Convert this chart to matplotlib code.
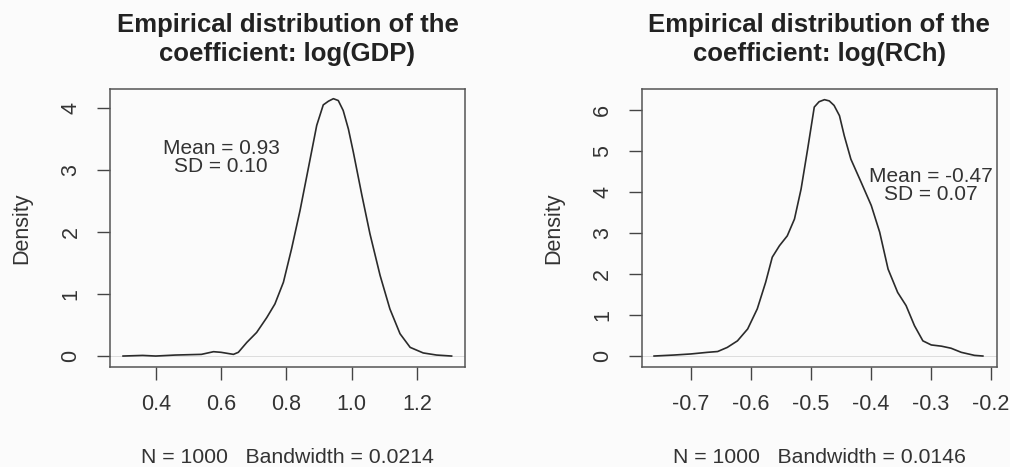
import matplotlib.pyplot as plt
import numpy as np

plt.rcParams['font.family'] = ['Liberation Sans', 'DejaVu Sans']

# Densidad empírica del coeficiente log(GDP)
gdp_x = [0.30, 0.36, 0.40, 0.46, 0.54, 0.577, 0.60, 0.638, 0.653, 0.679,
         0.709, 0.740, 0.765, 0.791, 0.816, 0.842, 0.867, 0.893, 0.913,
         0.929, 0.944, 0.959, 0.974, 0.990, 1.005, 1.031, 1.056, 1.087,
         1.117, 1.148, 1.179, 1.219, 1.260, 1.306]
gdp_y = [0.0, 0.01, 0.0, 0.016, 0.027, 0.07, 0.06, 0.027, 0.06, 0.22,
         0.38, 0.62, 0.84, 1.19, 1.73, 2.35, 3.02, 3.72, 4.05,
         4.11, 4.15, 4.12, 3.96, 3.66, 3.29, 2.60, 1.97, 1.30,
         0.76, 0.36, 0.14, 0.05, 0.016, 0.0]

# Densidad empírica del coeficiente log(RCh)
rch_x = [-0.761, -0.728, -0.700, -0.672, -0.655, -0.639, -0.622, -0.605,
         -0.589, -0.575, -0.564, -0.552, -0.539, -0.527, -0.516, -0.505,
         -0.494, -0.486, -0.477, -0.469, -0.461, -0.452, -0.444, -0.433,
         -0.416, -0.399, -0.385, -0.371, -0.355, -0.341, -0.327, -0.313,
         -0.299, -0.282, -0.266, -0.249, -0.227, -0.213]
rch_y = [0.0, 0.024, 0.05, 0.09, 0.11, 0.21, 0.37, 0.66,
         1.15, 1.80, 2.41, 2.69, 2.93, 3.34, 4.07, 5.05,
         6.07, 6.20, 6.25, 6.22, 6.11, 5.86, 5.37, 4.80,
         4.24, 3.67, 3.02, 2.12, 1.55, 1.23, 0.74, 0.37,
         0.27, 0.24, 0.19, 0.09, 0.016, 0.0]

titulos = ['Empirical distribution of the\ncoefficient: log(GDP)',
           'Empirical distribution of the\ncoefficient: log(RCh)']
etiquetas = ['N = 1000   Bandwidth = 0.0214',
             'N = 1000   Bandwidth = 0.0146']
resumen = ['Mean = 0.93\nSD = 0.10', 'Mean = -0.47\nSD = 0.07']
pos_texto = [(0.60, 3.2), (-0.30, 4.15)]
xticks = [[0.4, 0.6, 0.8, 1.0, 1.2], [-0.7, -0.6, -0.5, -0.4, -0.3, -0.2]]
xticklabels = [['0.4', '0.6', '0.8', '1.0', '1.2'],
               ['-0.7', '-0.6', '-0.5', '-0.4', '-0.3', '-0.2']]
yticks = [[0, 1, 2, 3, 4], [0, 1, 2, 3, 4, 5, 6]]
xlims = [(0.26, 1.347), (-0.7817, -0.19)]
ylims = [(-0.177, 4.306), (-0.268, 6.51)]

fondo = '#fbfbfb'
fig = plt.figure(figsize=(10.10, 4.67), dpi=100, facecolor=fondo)
ax1 = fig.add_axes([0.1089, 0.2141, 0.3515, 0.5953])
ax2 = fig.add_axes([0.6353, 0.2141, 0.3515, 0.5953])

datos = [(gdp_x, gdp_y), (rch_x, rch_y)]
for i, ax in enumerate([ax1, ax2]):
    ax.set_facecolor(fondo)
    x, y = datos[i]
    ax.axhline(0, color='#d8d8d8', lw=0.6, zorder=1)
    ax.plot(x, y, color='#2b2b2b', lw=1.2, zorder=2)
    ax.set_xlim(xlims[i])
    ax.set_ylim(ylims[i])
    ax.set_xticks(xticks[i])
    ax.set_xticklabels(xticklabels[i])
    ax.set_yticks(yticks[i])
    ax.set_yticklabels([str(v) for v in yticks[i]], rotation=90,
                       va='center')
    ax.tick_params(axis='both', direction='out', length=9.5, width=1.0,
                   color='#444444', labelsize=15.5, labelcolor='#333333')
    ax.tick_params(axis='x', pad=10)
    ax.tick_params(axis='y', pad=11)
    for s in ax.spines.values():
        s.set_color('#555555')
        s.set_linewidth(1.1)
    ax.set_xlabel(etiquetas[i], fontsize=15.3, color='#333333',
                  labelpad=24)
    ax.set_ylabel('Density', fontsize=15.5, color='#333333', labelpad=20)
    ax.text(0.5, 1.102, titulos[i], transform=ax.transAxes, ha='center',
            va='baseline', fontsize=18.5, fontweight='bold',
            color='#222222', linespacing=1.22)
    ax.text(pos_texto[i][0], pos_texto[i][1], resumen[i], ha='center',
            va='center', fontsize=15, color='#333333', linespacing=0.95)

plt.savefig('out.png', dpi=100, facecolor=fondo)
